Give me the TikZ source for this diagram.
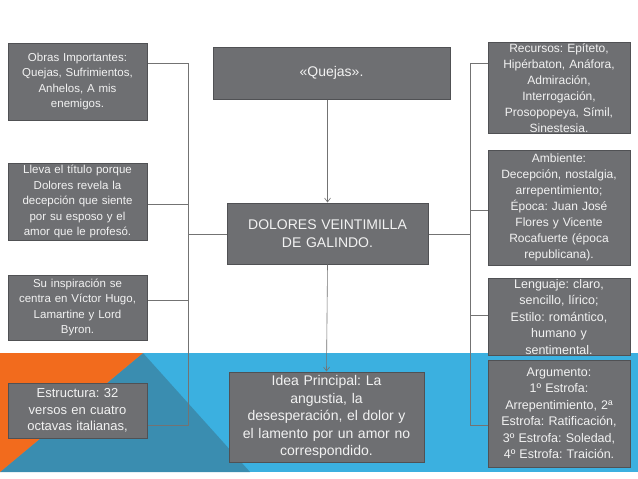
\documentclass[tikz,border=0pt]{standalone}
\usepackage{fontspec}
\setmainfont{Liberation Sans}
\frenchspacing
\usetikzlibrary{arrows.meta}
\definecolor{boxg}{HTML}{6E6F72}
\definecolor{boxb}{HTML}{505154}
\definecolor{orng}{HTML}{F26B1D}
\definecolor{blu}{HTML}{3BB0E0}
\definecolor{teal}{HTML}{3A8DB0}
\definecolor{txt}{HTML}{F2F2F2}
\begin{document}
\begin{tikzpicture}[x=1pt,y=-1pt,
  box/.style={draw=boxb,line width=1pt,fill=boxg,text=txt,align=center,inner sep=1pt},
  side/.style={box,font=\fontsize{11.5}{15.5}\selectfont,text width=136pt},
  mid/.style={box,font=\fontsize{14}{17.5}\selectfont},
  conn/.style={draw=black!55,line width=0.6pt}]
\useasboundingbox (0,0) rectangle (638,479);
\fill[white] (0,0) rectangle (638,479);
\fill[blu] (0,353) rectangle (638,472);
\fill[teal] (143,353) -- (250,472) -- (0,472) -- cycle;
\fill[orng] (0,353) -- (143,353) -- (0,472) -- cycle;
% center
\node[mid,minimum width=237pt,minimum height=52pt] (quejas) at (331.5,73) {«Quejas».};
\node[mid,minimum width=201pt,minimum height=61pt,text width=195pt] (dolores) at (327.5,233.5) {DOLORES VEINTIMILLA\\DE GALINDO.};
\node[mid,minimum width=195pt,minimum height=90pt,text width=192pt] (idea) at (326.5,417) {Idea Principal: La\\angustia, la\\desesperación, el dolor y\\el lamento por un amor no\\correspondido.};
% left
\node[side,minimum width=139pt,minimum height=77pt] (obras) at (77.5,81.5) {Obras Importantes:\\Quejas, Sufrimientos,\\Anhelos, A mis\\enemigos.};
\node[side,minimum width=139pt,minimum height=77pt] (lleva) at (77.5,201.5) {Lleva el título porque\\Dolores revela la\\decepción que siente\\por su esposo y el\\amor que le profesó.};
\node[side,minimum width=139pt,minimum height=65pt] (insp) at (77.5,307.5) {Su inspiración se\\centra en Víctor Hugo,\\Lamartine y Lord\\Byron.};
\node[side,minimum width=139pt,minimum height=55pt,font=\fontsize{13}{16.5}\selectfont] (estr) at (77.5,410.5) {Estructura: 32\\versos en cuatro\\octavas italianas,};
% right
\node[side,minimum width=142pt,minimum height=90pt,font=\fontsize{12}{16}\selectfont] (recur) at (559,88) {Recursos: Epíteto,\\Hipérbaton, Anáfora,\\Admiración,\\Interrogación,\\Prosopopeya, Símil,\\Sinestesia.};
\node[side,minimum width=142pt,minimum height=115pt,font=\fontsize{12}{16}\selectfont] (amb) at (559,207.5) {Ambiente:\\Decepción, nostalgia,\\arrepentimiento;\\Época: Juan José\\Flores y Vicente\\Rocafuerte (época\\republicana).};
\node[side,minimum width=142pt,minimum height=70pt,font=\fontsize{12.5}{16.5}\selectfont] (leng) at (559,317) {Lenguaje: claro,\\sencillo, lírico;\\Estilo: romántico,\\humano y\\sentimental.};
\node[side,minimum width=142pt,minimum height=107pt,font=\fontsize{12.5}{16.5}\selectfont] (arg) at (559,413.5) {Argumento:\\1º Estrofa:\\Arrepentimiento, 2ª\\Estrofa: Ratificación,\\3º Estrofa: Soledad,\\4º Estrofa: Traición.};
% connectors
\coordinate (l1) at (188,63); \coordinate (l2) at (188,204); \coordinate (l3) at (188,300);
\coordinate (l4) at (188,425); \coordinate (lc) at (188,234);
\coordinate (r1) at (470,63); \coordinate (r2) at (470,210); \coordinate (r3) at (470,315);
\coordinate (r4) at (470,425); \coordinate (rc) at (470,234);
\draw[conn] (obras.east |- l1) -- (l1) -- (l4) -- (estr.east |- l4);
\draw[conn] (lleva.east |- l2) -- (l2);
\draw[conn] (insp.east |- l3) -- (l3);
\draw[conn] (lc) -- (dolores.west |- lc);
\draw[conn] (recur.west |- r1) -- (r1) -- (r4) -- (arg.west |- r4);
\draw[conn] (amb.west |- r2) -- (r2);
\draw[conn] (leng.west |- r3) -- (r3);
\draw[conn] (rc) -- (dolores.east |- rc);
\draw[conn,-{Straight Barb[length=4pt,width=6pt]}] (quejas.south -| dolores.north) -- (dolores.north);
\draw[conn,-{Straight Barb[length=4pt,width=6pt]}] (dolores.south) -- (idea.north);
\end{tikzpicture}
\end{document}
